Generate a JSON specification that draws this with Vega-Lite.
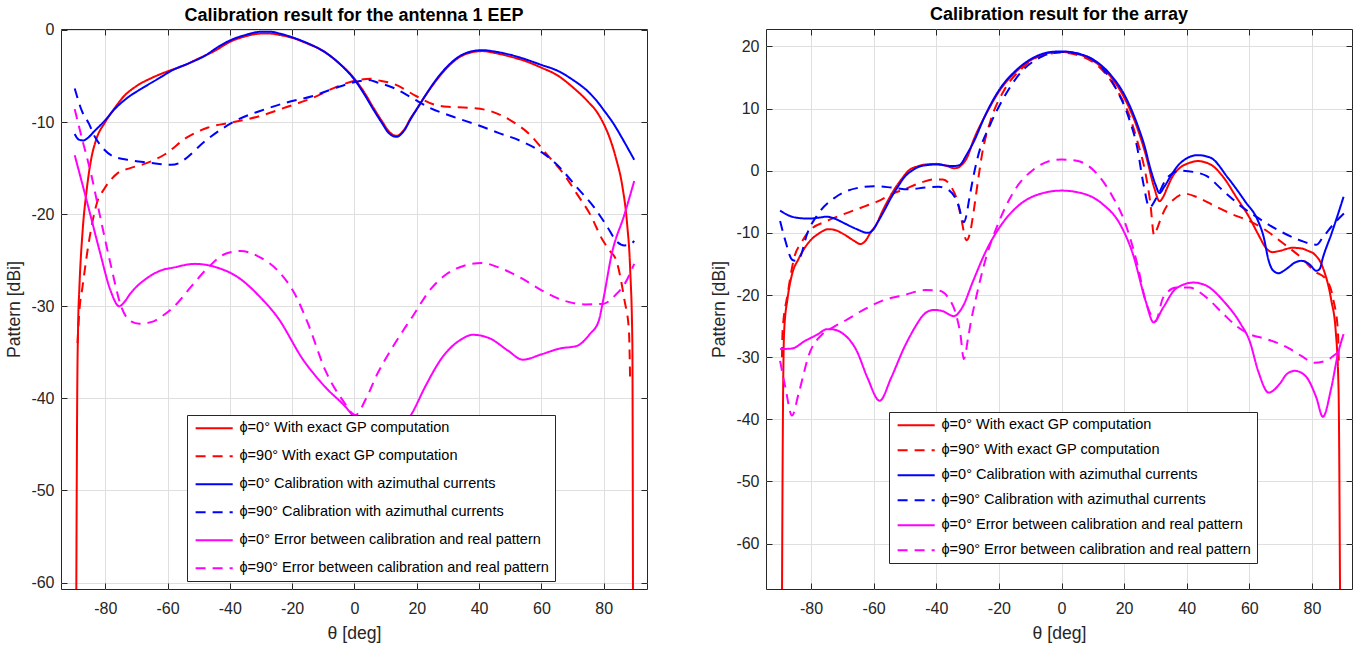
{
"$schema": "https://vega.github.io/schema/vega-lite/v6.json",
"padding": 5,
"spacing": 62,
"config": {
  "font": "Liberation Sans",
  "view": {"stroke": "#262626", "strokeWidth": 1},
  "axis": {"labelFont": "Liberation Sans", "labelFontSize": 16, "labelColor": "#262626", "titleFont": "Liberation Sans", "titleFontSize": 17.6, "titleFontWeight": "normal", "titleColor": "#262626", "gridColor": "#dfdfdf", "gridOpacity": 1, "tickColor": "#262626", "tickSize": -6, "domain": false, "labelFlush": false, "labelExpr": "'' + datum.value"},
  "legend": {"title": null, "labelFont": "Liberation Sans", "labelFontSize": 14.5, "labelColor": "#000000", "labelLimit": 500, "strokeColor": "#262626", "fillColor": "#ffffff", "padding": 6, "symbolType": "M-1,0H7", "symbolSize": 86, "symbolStrokeWidth": 2, "labelOffset": 32, "rowPadding": 13},
  "title": {"font": "Liberation Sans", "fontSize": 18, "fontWeight": "bold", "color": "#000000", "anchor": "middle"}
},
"datasets": {
"L": [
{"k":"r0","x":-89.3,"y":-62},{"k":"r0","x":-89.0,"y":-40},{"k":"r0","x":-88.7,"y":-32},{"k":"r0","x":-88.3,"y":-28},{"k":"r0","x":-87.3,"y":-22},{"k":"r0","x":-86,"y":-17.5},{"k":"r0","x":-84.5,"y":-14},{"k":"r0","x":-83,"y":-12},{"k":"r0","x":-80,"y":-10},{"k":"r0","x":-77,"y":-8.5},{"k":"r0","x":-74,"y":-7.2},{"k":"r0","x":-70,"y":-6.1},{"k":"r0","x":-65,"y":-5.2},{"k":"r0","x":-60,"y":-4.5},{"k":"r0","x":-55,"y":-3.9},{"k":"r0","x":-50,"y":-3.1},{"k":"r0","x":-45,"y":-2.3},{"k":"r0","x":-40,"y":-1.3},{"k":"r0","x":-35,"y":-0.7},{"k":"r0","x":-30,"y":-0.4},{"k":"r0","x":-27,"y":-0.4},{"k":"r0","x":-24,"y":-0.55},{"k":"r0","x":-20,"y":-0.85},{"k":"r0","x":-15,"y":-1.5},{"k":"r0","x":-10,"y":-2.3},{"k":"r0","x":-5,"y":-3.6},{"k":"r0","x":0,"y":-5.3},{"k":"r0","x":3,"y":-6.7},{"k":"r0","x":6,"y":-8.4},{"k":"r0","x":9,"y":-10},{"k":"r0","x":11,"y":-11},{"k":"r0","x":13.5,"y":-11.5},{"k":"r0","x":16,"y":-10.8},{"k":"r0","x":18,"y":-9.6},{"k":"r0","x":20,"y":-8.6},{"k":"r0","x":23,"y":-7.0},{"k":"r0","x":26,"y":-5.6},{"k":"r0","x":30,"y":-4.0},{"k":"r0","x":34,"y":-2.9},{"k":"r0","x":38,"y":-2.4},{"k":"r0","x":41,"y":-2.3},{"k":"r0","x":45,"y":-2.5},{"k":"r0","x":50,"y":-2.9},{"k":"r0","x":55,"y":-3.4},{"k":"r0","x":60,"y":-4.1},{"k":"r0","x":65,"y":-4.9},{"k":"r0","x":70,"y":-6.2},{"k":"r0","x":75,"y":-7.8},{"k":"r0","x":78,"y":-9},{"k":"r0","x":80,"y":-10.2},{"k":"r0","x":82,"y":-11.8},{"k":"r0","x":84,"y":-14},{"k":"r0","x":86,"y":-17},{"k":"r0","x":87.5,"y":-21},{"k":"r0","x":88.5,"y":-26},{"k":"r0","x":89.2,"y":-34},{"k":"r0","x":89.4,"y":-62},
{"k":"r90","x":-88.9,"y":-34},{"k":"r90","x":-88.3,"y":-30.5},{"k":"r90","x":-87.3,"y":-27.9},{"k":"r90","x":-85.2,"y":-22.9},{"k":"r90","x":-82.5,"y":-18.6},{"k":"r90","x":-80.4,"y":-17.3},{"k":"r90","x":-76.2,"y":-15.6},{"k":"r90","x":-72,"y":-15},{"k":"r90","x":-67.9,"y":-14.6},{"k":"r90","x":-60.8,"y":-13.5},{"k":"r90","x":-53.9,"y":-11.7},{"k":"r90","x":-47,"y":-10.6},{"k":"r90","x":-38.7,"y":-10.0},{"k":"r90","x":-30.3,"y":-9.35},{"k":"r90","x":-22,"y":-8.4},{"k":"r90","x":-13.6,"y":-7.4},{"k":"r90","x":-5.2,"y":-6.1},{"k":"r90","x":1.8,"y":-5.4},{"k":"r90","x":5,"y":-5.3},{"k":"r90","x":7.3,"y":-5.45},{"k":"r90","x":12.9,"y":-5.9},{"k":"r90","x":19.9,"y":-7.2},{"k":"r90","x":25.5,"y":-8.1},{"k":"r90","x":30,"y":-8.35},{"k":"r90","x":36.6,"y":-8.45},{"k":"r90","x":43.5,"y":-8.8},{"k":"r90","x":50.5,"y":-9.9},{"k":"r90","x":56.1,"y":-11.3},{"k":"r90","x":61.7,"y":-13.5},{"k":"r90","x":67.3,"y":-15.7},{"k":"r90","x":71.4,"y":-17.8},{"k":"r90","x":75.6,"y":-20},{"k":"r90","x":79.8,"y":-22.9},{"k":"r90","x":82,"y":-24},{"k":"r90","x":84,"y":-25},{"k":"r90","x":86.7,"y":-29.4},{"k":"r90","x":88.1,"y":-32.6},{"k":"r90","x":88.5,"y":-38.4},
{"k":"b0","x":-89.8,"y":-11.3},{"k":"b0","x":-88.5,"y":-11.9},{"k":"b0","x":-87,"y":-12.0},{"k":"b0","x":-85.5,"y":-11.7},{"k":"b0","x":-83.5,"y":-11},{"k":"b0","x":-80,"y":-9.8},{"k":"b0","x":-77,"y":-8.6},{"k":"b0","x":-73,"y":-7.4},{"k":"b0","x":-68,"y":-6.3},{"k":"b0","x":-63,"y":-5.3},{"k":"b0","x":-58,"y":-4.3},{"k":"b0","x":-53,"y":-3.6},{"k":"b0","x":-48,"y":-2.8},{"k":"b0","x":-44,"y":-1.9},{"k":"b0","x":-40,"y":-1.15},{"k":"b0","x":-35,"y":-0.55},{"k":"b0","x":-30,"y":-0.2},{"k":"b0","x":-27,"y":-0.2},{"k":"b0","x":-24,"y":-0.4},{"k":"b0","x":-20,"y":-0.8},{"k":"b0","x":-15,"y":-1.45},{"k":"b0","x":-10,"y":-2.3},{"k":"b0","x":-5,"y":-3.6},{"k":"b0","x":0,"y":-5.4},{"k":"b0","x":3,"y":-6.9},{"k":"b0","x":6,"y":-8.6},{"k":"b0","x":9,"y":-10.2},{"k":"b0","x":11,"y":-11.2},{"k":"b0","x":13.5,"y":-11.6},{"k":"b0","x":16,"y":-10.9},{"k":"b0","x":18,"y":-9.7},{"k":"b0","x":20,"y":-8.6},{"k":"b0","x":23,"y":-7.0},{"k":"b0","x":26,"y":-5.5},{"k":"b0","x":30,"y":-3.9},{"k":"b0","x":34,"y":-2.8},{"k":"b0","x":38,"y":-2.3},{"k":"b0","x":41,"y":-2.2},{"k":"b0","x":45,"y":-2.35},{"k":"b0","x":50,"y":-2.7},{"k":"b0","x":55,"y":-3.2},{"k":"b0","x":60,"y":-3.8},{"k":"b0","x":65,"y":-4.4},{"k":"b0","x":70,"y":-5.4},{"k":"b0","x":75,"y":-6.7},{"k":"b0","x":78,"y":-7.8},{"k":"b0","x":80,"y":-8.7},{"k":"b0","x":83,"y":-10.1},{"k":"b0","x":86,"y":-11.8},{"k":"b0","x":88,"y":-13},{"k":"b0","x":89.8,"y":-14.1},
{"k":"b90","x":-89.8,"y":-6.35},{"k":"b90","x":-87.5,"y":-8.8},{"k":"b90","x":-85.2,"y":-10.2},{"k":"b90","x":-83.5,"y":-11.5},{"k":"b90","x":-81.8,"y":-12.4},{"k":"b90","x":-77.6,"y":-13.7},{"k":"b90","x":-72,"y":-14.15},{"k":"b90","x":-66.4,"y":-14.4},{"k":"b90","x":-61,"y":-14.6},{"k":"b90","x":-58.8,"y":-14.65},{"k":"b90","x":-56,"y":-14.4},{"k":"b90","x":-53.9,"y":-13.9},{"k":"b90","x":-48.4,"y":-12.2},{"k":"b90","x":-42.8,"y":-10.8},{"k":"b90","x":-37.2,"y":-9.7},{"k":"b90","x":-30.3,"y":-8.8},{"k":"b90","x":-22,"y":-7.9},{"k":"b90","x":-13.6,"y":-7.2},{"k":"b90","x":-5.2,"y":-6.2},{"k":"b90","x":1.8,"y":-5.55},{"k":"b90","x":4.5,"y":-5.45},{"k":"b90","x":7.3,"y":-5.7},{"k":"b90","x":12.9,"y":-6.35},{"k":"b90","x":18.5,"y":-7.4},{"k":"b90","x":24.1,"y":-8.45},{"k":"b90","x":31,"y":-9.35},{"k":"b90","x":39.3,"y":-10.3},{"k":"b90","x":46.4,"y":-11.2},{"k":"b90","x":53.3,"y":-12.05},{"k":"b90","x":60.2,"y":-13.3},{"k":"b90","x":65.8,"y":-14.9},{"k":"b90","x":71.4,"y":-17.1},{"k":"b90","x":77,"y":-19.3},{"k":"b90","x":81.2,"y":-21.4},{"k":"b90","x":84,"y":-22.9},{"k":"b90","x":86.7,"y":-23.4},{"k":"b90","x":88.5,"y":-23.3},{"k":"b90","x":89.8,"y":-22.9},
{"k":"m0","x":-89.8,"y":-13.6},{"k":"m0","x":-85.9,"y":-18.6},{"k":"m0","x":-81.8,"y":-24},{"k":"m0","x":-78.3,"y":-28.3},{"k":"m0","x":-75.5,"y":-30.0},{"k":"m0","x":-74,"y":-29.6},{"k":"m0","x":-72,"y":-28.65},{"k":"m0","x":-66.4,"y":-26.9},{"k":"m0","x":-62,"y":-26.1},{"k":"m0","x":-58.1,"y":-25.8},{"k":"m0","x":-51.2,"y":-25.4},{"k":"m0","x":-44.1,"y":-25.8},{"k":"m0","x":-37.2,"y":-26.9},{"k":"m0","x":-30.3,"y":-29},{"k":"m0","x":-24.7,"y":-31.2},{"k":"m0","x":-16.3,"y":-35.9},{"k":"m0","x":-9.3,"y":-38.8},{"k":"m0","x":-2.4,"y":-41.1},{"k":"m0","x":2,"y":-43},{"k":"m0","x":8,"y":-45},{"k":"m0","x":13,"y":-44},{"k":"m0","x":18.5,"y":-41.6},{"k":"m0","x":22.6,"y":-38.8},{"k":"m0","x":28.3,"y":-35.5},{"k":"m0","x":33.8,"y":-33.7},{"k":"m0","x":38,"y":-33.1},{"k":"m0","x":43.5,"y":-33.5},{"k":"m0","x":49.2,"y":-34.8},{"k":"m0","x":54,"y":-35.8},{"k":"m0","x":60.2,"y":-35.2},{"k":"m0","x":65.8,"y":-34.6},{"k":"m0","x":71.4,"y":-34.3},{"k":"m0","x":75.6,"y":-33},{"k":"m0","x":78.4,"y":-31.6},{"k":"m0","x":79.8,"y":-29.4},{"k":"m0","x":82.6,"y":-24.3},{"k":"m0","x":86.7,"y":-20},{"k":"m0","x":89.8,"y":-16.4},
{"k":"m90","x":-89.8,"y":-8.6},{"k":"m90","x":-87.3,"y":-12},{"k":"m90","x":-84.5,"y":-15.7},{"k":"m90","x":-81.8,"y":-20},{"k":"m90","x":-78.3,"y":-25.4},{"k":"m90","x":-74.8,"y":-30.1},{"k":"m90","x":-72,"y":-31.6},{"k":"m90","x":-69,"y":-31.9},{"k":"m90","x":-65,"y":-31.7},{"k":"m90","x":-62.3,"y":-31.2},{"k":"m90","x":-58.1,"y":-30.1},{"k":"m90","x":-52.5,"y":-27.9},{"k":"m90","x":-47,"y":-25.8},{"k":"m90","x":-41.4,"y":-24.3},{"k":"m90","x":-36.5,"y":-24.0},{"k":"m90","x":-30.3,"y":-24.7},{"k":"m90","x":-24.7,"y":-26.1},{"k":"m90","x":-19.1,"y":-28.7},{"k":"m90","x":-14.9,"y":-31.9},{"k":"m90","x":-9.3,"y":-37},{"k":"m90","x":-3.8,"y":-40.2},{"k":"m90","x":0.3,"y":-41.8},{"k":"m90","x":3.9,"y":-39.9},{"k":"m90","x":7.4,"y":-37.3},{"k":"m90","x":11.6,"y":-34.8},{"k":"m90","x":15.7,"y":-32.6},{"k":"m90","x":18.5,"y":-31.2},{"k":"m90","x":24.1,"y":-28.3},{"k":"m90","x":29.6,"y":-26.5},{"k":"m90","x":35.2,"y":-25.6},{"k":"m90","x":40.8,"y":-25.3},{"k":"m90","x":46.4,"y":-25.8},{"k":"m90","x":53.3,"y":-26.9},{"k":"m90","x":60.2,"y":-28.3},{"k":"m90","x":67.3,"y":-29.4},{"k":"m90","x":74.2,"y":-29.8},{"k":"m90","x":79.8,"y":-29.75},{"k":"m90","x":84,"y":-28.7},{"k":"m90","x":86.7,"y":-27.6},{"k":"m90","x":89.8,"y":-25.4}
],
"R": [
{"k":"r0","x":-89.3,"y":-70},{"k":"r0","x":-89.0,"y":-40},{"k":"r0","x":-88.6,"y":-25.8},{"k":"r0","x":-87.5,"y":-20.5},{"k":"r0","x":-86.1,"y":-16.7},{"k":"r0","x":-84,"y":-14.2},{"k":"r0","x":-82,"y":-12.4},{"k":"r0","x":-80,"y":-11.1},{"k":"r0","x":-77.8,"y":-10.2},{"k":"r0","x":-74.4,"y":-9.4},{"k":"r0","x":-72,"y":-9.6},{"k":"r0","x":-69.6,"y":-10.2},{"k":"r0","x":-66.2,"y":-11.3},{"k":"r0","x":-64.3,"y":-11.8},{"k":"r0","x":-62.5,"y":-11.2},{"k":"r0","x":-61.3,"y":-10.2},{"k":"r0","x":-59,"y":-8.5},{"k":"r0","x":-57.2,"y":-6.5},{"k":"r0","x":-55,"y":-4.4},{"k":"r0","x":-53,"y":-2.7},{"k":"r0","x":-51,"y":-1.3},{"k":"r0","x":-48.9,"y":0},{"k":"r0","x":-46,"y":0.7},{"k":"r0","x":-43.4,"y":1.0},{"k":"r0","x":-39.9,"y":1.1},{"k":"r0","x":-36.5,"y":0.75},{"k":"r0","x":-34.4,"y":0.4},{"k":"r0","x":-33,"y":0.5},{"k":"r0","x":-32.3,"y":0.75},{"k":"r0","x":-30,"y":2.3},{"k":"r0","x":-28.2,"y":4.8},{"k":"r0","x":-24.1,"y":9.1},{"k":"r0","x":-19.9,"y":12.8},{"k":"r0","x":-14.4,"y":16},{"k":"r0","x":-8.9,"y":18.05},{"k":"r0","x":-3.4,"y":19.0},{"k":"r0","x":0,"y":19.1},{"k":"r0","x":4.9,"y":18.8},{"k":"r0","x":10.4,"y":17.6},{"k":"r0","x":15.9,"y":15},{"k":"r0","x":20.1,"y":11.7},{"k":"r0","x":24.2,"y":6.9},{"k":"r0","x":26.9,"y":2.6},{"k":"r0","x":29.6,"y":-2.7},{"k":"r0","x":31.3,"y":-4.9},{"k":"r0","x":32.5,"y":-4.2},{"k":"r0","x":33.8,"y":-2.7},{"k":"r0","x":35.5,"y":-0.9},{"k":"r0","x":37.9,"y":0.5},{"k":"r0","x":40.5,"y":1.2},{"k":"r0","x":43.5,"y":1.55},{"k":"r0","x":47.6,"y":1.0},{"k":"r0","x":51.8,"y":-1.1},{"k":"r0","x":55.9,"y":-4.3},{"k":"r0","x":60.1,"y":-7.6},{"k":"r0","x":62.8,"y":-10.2},{"k":"r0","x":65.6,"y":-12.6},{"k":"r0","x":67.5,"y":-13.1},{"k":"r0","x":69.7,"y":-12.9},{"k":"r0","x":73.8,"y":-12.4},{"k":"r0","x":76.6,"y":-12.5},{"k":"r0","x":78.8,"y":-12.9},{"k":"r0","x":80.7,"y":-13.4},{"k":"r0","x":83.5,"y":-15.6},{"k":"r0","x":86.2,"y":-20.9},{"k":"r0","x":87.6,"y":-25.8},{"k":"r0","x":88.5,"y":-35},{"k":"r0","x":89.0,"y":-70},
{"k":"r90","x":-89.3,"y":-30},{"k":"r90","x":-89.1,"y":-25.8},{"k":"r90","x":-87.5,"y":-19.9},{"k":"r90","x":-85.4,"y":-14},{"k":"r90","x":-83,"y":-11.5},{"k":"r90","x":-80.6,"y":-9.7},{"k":"r90","x":-75,"y":-8.1},{"k":"r90","x":-69.6,"y":-7.0},{"k":"r90","x":-62.7,"y":-5.7},{"k":"r90","x":-58.5,"y":-4.9},{"k":"r90","x":-54.4,"y":-3.8},{"k":"r90","x":-50.3,"y":-3.0},{"k":"r90","x":-44.8,"y":-1.9},{"k":"r90","x":-40.7,"y":-1.4},{"k":"r90","x":-37.9,"y":-1.4},{"k":"r90","x":-35.1,"y":-2.7},{"k":"r90","x":-33.5,"y":-4.5},{"k":"r90","x":-32.3,"y":-7.0},{"k":"r90","x":-30.3,"y":-11.2},{"k":"r90","x":-29,"y":-9.5},{"k":"r90","x":-28.2,"y":-7.0},{"k":"r90","x":-26.5,"y":-1},{"k":"r90","x":-25.4,"y":2.6},{"k":"r90","x":-22.7,"y":8.0},{"k":"r90","x":-18.5,"y":12.8},{"k":"r90","x":-13,"y":16.3},{"k":"r90","x":-6.1,"y":18.6},{"k":"r90","x":0,"y":19.0},{"k":"r90","x":6.3,"y":18.4},{"k":"r90","x":11.8,"y":16.8},{"k":"r90","x":17.3,"y":13.3},{"k":"r90","x":21.5,"y":9.1},{"k":"r90","x":24.2,"y":4.8},{"k":"r90","x":26.9,"y":-0.6},{"k":"r90","x":28.3,"y":-4.9},{"k":"r90","x":29.6,"y":-10.4},{"k":"r90","x":30.5,"y":-9.4},{"k":"r90","x":31.8,"y":-7.6},{"k":"r90","x":33.5,"y":-5.8},{"k":"r90","x":35.2,"y":-4.9},{"k":"r90","x":39.4,"y":-3.7},{"k":"r90","x":43.5,"y":-4.3},{"k":"r90","x":49,"y":-5.7},{"k":"r90","x":54.5,"y":-7.0},{"k":"r90","x":60.1,"y":-8.1},{"k":"r90","x":65.6,"y":-9.7},{"k":"r90","x":71.1,"y":-11.8},{"k":"r90","x":76.6,"y":-14},{"k":"r90","x":80.7,"y":-16.1},{"k":"r90","x":84.9,"y":-17.7},{"k":"r90","x":86.9,"y":-20.9},{"k":"r90","x":88.3,"y":-25.8},{"k":"r90","x":88.6,"y":-31},
{"k":"b0","x":-89.9,"y":-6.4},{"k":"b0","x":-88,"y":-7.0},{"k":"b0","x":-86.1,"y":-7.4},{"k":"b0","x":-83,"y":-7.65},{"k":"b0","x":-80.6,"y":-7.7},{"k":"b0","x":-77.5,"y":-7.55},{"k":"b0","x":-75,"y":-7.4},{"k":"b0","x":-72,"y":-7.8},{"k":"b0","x":-69.6,"y":-8.4},{"k":"b0","x":-65.4,"y":-9.4},{"k":"b0","x":-62,"y":-10.0},{"k":"b0","x":-60.2,"y":-9.5},{"k":"b0","x":-58.5,"y":-8.1},{"k":"b0","x":-56.5,"y":-6.3},{"k":"b0","x":-54.4,"y":-4.3},{"k":"b0","x":-52.3,"y":-2.6},{"k":"b0","x":-50.3,"y":-1.1},{"k":"b0","x":-47.5,"y":0.1},{"k":"b0","x":-44.8,"y":0.75},{"k":"b0","x":-39.9,"y":1.0},{"k":"b0","x":-35.1,"y":0.75},{"k":"b0","x":-33.3,"y":0.8},{"k":"b0","x":-32.3,"y":1.0},{"k":"b0","x":-30.5,"y":2.4},{"k":"b0","x":-28.2,"y":4.5},{"k":"b0","x":-24.1,"y":9.2},{"k":"b0","x":-19.9,"y":13.0},{"k":"b0","x":-14.4,"y":16.2},{"k":"b0","x":-8.9,"y":18.2},{"k":"b0","x":-3.4,"y":19.1},{"k":"b0","x":0,"y":19.2},{"k":"b0","x":4.9,"y":18.9},{"k":"b0","x":10.4,"y":17.8},{"k":"b0","x":15.9,"y":15.3},{"k":"b0","x":20.1,"y":12.2},{"k":"b0","x":24.2,"y":7.45},{"k":"b0","x":26.5,"y":4},{"k":"b0","x":28.3,"y":0.5},{"k":"b0","x":30,"y":-2.2},{"k":"b0","x":31.3,"y":-3.6},{"k":"b0","x":32.8,"y":-2.6},{"k":"b0","x":35.2,"y":-0.6},{"k":"b0","x":37.5,"y":1.0},{"k":"b0","x":39.4,"y":1.8},{"k":"b0","x":43.5,"y":2.5},{"k":"b0","x":47.6,"y":2.1},{"k":"b0","x":53.1,"y":-1.1},{"k":"b0","x":58.6,"y":-4.9},{"k":"b0","x":62.8,"y":-8.1},{"k":"b0","x":64.5,"y":-10.5},{"k":"b0","x":66.2,"y":-14.5},{"k":"b0","x":67.5,"y":-16.0},{"k":"b0","x":69.4,"y":-16.5},{"k":"b0","x":71,"y":-16.1},{"k":"b0","x":72.4,"y":-15.6},{"k":"b0","x":74.5,"y":-14.8},{"k":"b0","x":76.6,"y":-14.5},{"k":"b0","x":79.3,"y":-15.1},{"k":"b0","x":81.4,"y":-16.1},{"k":"b0","x":82.5,"y":-15.8},{"k":"b0","x":83.5,"y":-14},{"k":"b0","x":86.2,"y":-10.2},{"k":"b0","x":88,"y":-7.5},{"k":"b0","x":90.1,"y":-4.2},
{"k":"b90","x":-89.9,"y":-8.1},{"k":"b90","x":-88.2,"y":-11.3},{"k":"b90","x":-86.1,"y":-14.3},{"k":"b90","x":-85,"y":-14.5},{"k":"b90","x":-83.6,"y":-14},{"k":"b90","x":-81.3,"y":-10.2},{"k":"b90","x":-77.8,"y":-7.0},{"k":"b90","x":-72.3,"y":-4.3},{"k":"b90","x":-65.4,"y":-2.8},{"k":"b90","x":-59.9,"y":-2.5},{"k":"b90","x":-54.4,"y":-2.7},{"k":"b90","x":-48.9,"y":-3.0},{"k":"b90","x":-43.4,"y":-2.7},{"k":"b90","x":-39.2,"y":-2.6},{"k":"b90","x":-35.8,"y":-3.2},{"k":"b90","x":-33,"y":-5.4},{"k":"b90","x":-31.2,"y":-8.3},{"k":"b90","x":-30.3,"y":-7},{"k":"b90","x":-29.6,"y":-4.9},{"k":"b90","x":-26.8,"y":2.1},{"k":"b90","x":-22.7,"y":7.5},{"k":"b90","x":-18.5,"y":11.7},{"k":"b90","x":-13,"y":15.8},{"k":"b90","x":-6.1,"y":18.4},{"k":"b90","x":0,"y":19.1},{"k":"b90","x":6.3,"y":18.7},{"k":"b90","x":11.8,"y":17.1},{"k":"b90","x":17.3,"y":13.3},{"k":"b90","x":21.5,"y":8.5},{"k":"b90","x":24.2,"y":3.7},{"k":"b90","x":26.2,"y":-2.2},{"k":"b90","x":28.1,"y":-5.9},{"k":"b90","x":30.4,"y":-4.3},{"k":"b90","x":33.8,"y":-1.1},{"k":"b90","x":37.9,"y":0},{"k":"b90","x":42.2,"y":-0.2},{"k":"b90","x":46.3,"y":-0.85},{"k":"b90","x":51.8,"y":-3.3},{"k":"b90","x":57.3,"y":-5.7},{"k":"b90","x":62.8,"y":-7.6},{"k":"b90","x":69.7,"y":-9.7},{"k":"b90","x":75.2,"y":-11},{"k":"b90","x":80,"y":-11.8},{"k":"b90","x":81.5,"y":-11.9},{"k":"b90","x":83.5,"y":-10.7},{"k":"b90","x":86.9,"y":-8.6},{"k":"b90","x":90.4,"y":-6.8},
{"k":"m0","x":-89.9,"y":-28.7},{"k":"m0","x":-86.1,"y":-28.6},{"k":"m0","x":-82,"y":-27.4},{"k":"m0","x":-77.8,"y":-26.3},{"k":"m0","x":-75,"y":-25.5},{"k":"m0","x":-73.7,"y":-25.5},{"k":"m0","x":-69.6,"y":-26.3},{"k":"m0","x":-65.4,"y":-29},{"k":"m0","x":-62,"y":-33.3},{"k":"m0","x":-58.1,"y":-37.0},{"k":"m0","x":-54.4,"y":-33.3},{"k":"m0","x":-50.3,"y":-28.5},{"k":"m0","x":-46.1,"y":-24.6},{"k":"m0","x":-44.8,"y":-23.6},{"k":"m0","x":-42.5,"y":-22.6},{"k":"m0","x":-40.7,"y":-22.4},{"k":"m0","x":-37.9,"y":-22.6},{"k":"m0","x":-34.4,"y":-23.4},{"k":"m0","x":-31.7,"y":-22},{"k":"m0","x":-28.2,"y":-17.7},{"k":"m0","x":-24.1,"y":-12.9},{"k":"m0","x":-19.9,"y":-9.2},{"k":"m0","x":-14.4,"y":-5.9},{"k":"m0","x":-8.9,"y":-4.1},{"k":"m0","x":0,"y":-3.2},{"k":"m0","x":7.7,"y":-3.8},{"k":"m0","x":13.2,"y":-5.4},{"k":"m0","x":18.7,"y":-8.6},{"k":"m0","x":22.8,"y":-13.4},{"k":"m0","x":26.9,"y":-21},{"k":"m0","x":29.4,"y":-24.4},{"k":"m0","x":32.5,"y":-22},{"k":"m0","x":36.7,"y":-18.9},{"k":"m0","x":42.2,"y":-18},{"k":"m0","x":46.3,"y":-18.5},{"k":"m0","x":51.8,"y":-21},{"k":"m0","x":57.3,"y":-24.7},{"k":"m0","x":60.1,"y":-27.4},{"k":"m0","x":62.8,"y":-32.2},{"k":"m0","x":66.2,"y":-35.7},{"k":"m0","x":69.7,"y":-34.3},{"k":"m0","x":72,"y":-32.7},{"k":"m0","x":74.5,"y":-32.2},{"k":"m0","x":77.9,"y":-33},{"k":"m0","x":81.4,"y":-36.5},{"k":"m0","x":83.5,"y":-39.6},{"k":"m0","x":86.2,"y":-34.9},{"k":"m0","x":88.3,"y":-29.5},{"k":"m0","x":90.1,"y":-26.3},
{"k":"m90","x":-89.9,"y":-30.6},{"k":"m90","x":-88.2,"y":-34.9},{"k":"m90","x":-86.1,"y":-39.4},{"k":"m90","x":-84,"y":-35.9},{"k":"m90","x":-80.6,"y":-29.5},{"k":"m90","x":-76.4,"y":-26.3},{"k":"m90","x":-73,"y":-25.2},{"k":"m90","x":-69,"y":-24.1},{"k":"m90","x":-64,"y":-22.6},{"k":"m90","x":-57.2,"y":-20.9},{"k":"m90","x":-50.3,"y":-20},{"k":"m90","x":-43.4,"y":-19.2},{"k":"m90","x":-39.2,"y":-19.3},{"k":"m90","x":-35.8,"y":-20.7},{"k":"m90","x":-33.7,"y":-23.1},{"k":"m90","x":-32.3,"y":-26.3},{"k":"m90","x":-31.2,"y":-30.3},{"k":"m90","x":-29.8,"y":-26.8},{"k":"m90","x":-28.9,"y":-24.2},{"k":"m90","x":-27.5,"y":-20.9},{"k":"m90","x":-24.1,"y":-14},{"k":"m90","x":-19.9,"y":-8.1},{"k":"m90","x":-14.4,"y":-2.7},{"k":"m90","x":-8.9,"y":0.2},{"k":"m90","x":-3.4,"y":1.6},{"k":"m90","x":0,"y":1.8},{"k":"m90","x":4.9,"y":1.6},{"k":"m90","x":10.4,"y":0},{"k":"m90","x":15.9,"y":-3.8},{"k":"m90","x":20.1,"y":-8.1},{"k":"m90","x":24.2,"y":-15},{"k":"m90","x":26.9,"y":-21},{"k":"m90","x":29,"y":-23.6},{"k":"m90","x":30,"y":-24.2},{"k":"m90","x":32.5,"y":-20.4},{"k":"m90","x":36.7,"y":-18.8},{"k":"m90","x":40.8,"y":-18.8},{"k":"m90","x":46.3,"y":-20.4},{"k":"m90","x":51.8,"y":-23.1},{"k":"m90","x":55.9,"y":-25},{"k":"m90","x":60.1,"y":-26.3},{"k":"m90","x":65.6,"y":-27.1},{"k":"m90","x":72.4,"y":-28.5},{"k":"m90","x":76.6,"y":-29.8},{"k":"m90","x":80.7,"y":-30.9},{"k":"m90","x":84.9,"y":-30.5},{"k":"m90","x":87.6,"y":-29.5},{"k":"m90","x":90.1,"y":-29}
]
},
"hconcat": [
{
  "width": 586, "height": 560,
  "title": {"text": "Calibration result for the antenna 1 EEP", "offset": -3.5},
  "data": {"name": "L"},
  "layer": [
    {"mark": {"type": "line", "strokeWidth": 2, "clip": true, "interpolate": "monotone"},
     "encoding": {
       "x": {"field": "x", "type": "quantitative", "scale": {"domain": [-94.2, 93.9], "nice": false, "zero": false}, "axis": {"values": [-80,-60,-40,-20,0,20,40,60,80], "title": "θ [deg]", "labelPadding": 17, "titlePadding": 8}},
       "y": {"field": "y", "type": "quantitative", "scale": {"domain": [-60.7, 0.1], "nice": false, "zero": false}, "axis": {"values": [-60,-50,-40,-30,-20,-10,0], "title": "Pattern [dBi]", "labelPadding": 13, "titlePadding": 7}},
       "color": {"field": "k", "type": "nominal", "scale": {"domain": ["r0","r90","b0","b90","m0","m90"], "range": ["#ff0000","#ff0000","#0000ff","#0000ff","#ff00ff","#ff00ff"]}, "legend": {"orient": "none", "legendX": 126, "legendY": 386, "labelExpr": "datum.label == 'r0' ? 'ϕ=0° With exact GP computation' : datum.label == 'r90' ? 'ϕ=90° With exact GP computation' : datum.label == 'b0' ? 'ϕ=0° Calibration with azimuthal currents' : datum.label == 'b90' ? 'ϕ=90° Calibration with azimuthal currents' : datum.label == 'm0' ? 'ϕ=0° Error between calibration and real pattern' : 'ϕ=90° Error between calibration and real pattern'"}},
       "strokeDash": {"field": "k", "type": "nominal", "scale": {"domain": ["r0","r90","b0","b90","m0","m90"], "range": [[1,0],[10,7],[1,0],[10,7],[1,0],[10,7]]}, "legend": {"orient": "none", "legendX": 126, "legendY": 386, "labelExpr": "datum.label == 'r0' ? 'ϕ=0° With exact GP computation' : datum.label == 'r90' ? 'ϕ=90° With exact GP computation' : datum.label == 'b0' ? 'ϕ=0° Calibration with azimuthal currents' : datum.label == 'b90' ? 'ϕ=90° Calibration with azimuthal currents' : datum.label == 'm0' ? 'ϕ=0° Error between calibration and real pattern' : 'ϕ=90° Error between calibration and real pattern'"}}
     }},
    {"mark": {"type": "line", "opacity": 0},
     "encoding": {
       "x": {"field": "x", "type": "quantitative", "axis": {"orient": "top", "values": [-80,-60,-40,-20,0,20,40,60,80], "labels": false, "title": null, "grid": false}},
       "y": {"field": "y", "type": "quantitative", "axis": {"orient": "right", "values": [-60,-50,-40,-30,-20,-10,0], "labels": false, "title": null, "grid": false}}
     }}
  ],
  "resolve": {"axis": {"x": "independent", "y": "independent"}}
},
{
  "width": 586, "height": 560,
  "title": {"text": "Calibration result for the array", "offset": 4.5},
  "data": {"name": "R"},
  "layer": [
    {"mark": {"type": "line", "strokeWidth": 2, "clip": true, "interpolate": "monotone"},
     "encoding": {
       "x": {"field": "x", "type": "quantitative", "scale": {"domain": [-94.4, 92.8], "nice": false, "zero": false}, "axis": {"values": [-80,-60,-40,-20,0,20,40,60,80], "title": "θ [deg]", "labelPadding": 17, "titlePadding": 8}},
       "y": {"field": "y", "type": "quantitative", "scale": {"domain": [-67.3, 22.8], "nice": false, "zero": false}, "axis": {"values": [-60,-50,-40,-30,-20,-10,0,10,20], "title": "Pattern [dBi]", "labelPadding": 13, "titlePadding": 7}},
       "color": {"field": "k", "type": "nominal", "scale": {"domain": ["r0","r90","b0","b90","m0","m90"], "range": ["#ff0000","#ff0000","#0000ff","#0000ff","#ff00ff","#ff00ff"]}, "legend": {"orient": "none", "legendX": 123, "legendY": 383, "rowPadding": 10, "labelExpr": "datum.label == 'r0' ? 'ϕ=0° With exact GP computation' : datum.label == 'r90' ? 'ϕ=90° With exact GP computation' : datum.label == 'b0' ? 'ϕ=0° Calibration with azimuthal currents' : datum.label == 'b90' ? 'ϕ=90° Calibration with azimuthal currents' : datum.label == 'm0' ? 'ϕ=0° Error between calibration and real pattern' : 'ϕ=90° Error between calibration and real pattern'"}},
       "strokeDash": {"field": "k", "type": "nominal", "scale": {"domain": ["r0","r90","b0","b90","m0","m90"], "range": [[1,0],[10,7],[1,0],[10,7],[1,0],[10,7]]}, "legend": {"orient": "none", "legendX": 123, "legendY": 383, "rowPadding": 10, "labelExpr": "datum.label == 'r0' ? 'ϕ=0° With exact GP computation' : datum.label == 'r90' ? 'ϕ=90° With exact GP computation' : datum.label == 'b0' ? 'ϕ=0° Calibration with azimuthal currents' : datum.label == 'b90' ? 'ϕ=90° Calibration with azimuthal currents' : datum.label == 'm0' ? 'ϕ=0° Error between calibration and real pattern' : 'ϕ=90° Error between calibration and real pattern'"}}
     }},
    {"mark": {"type": "line", "opacity": 0},
     "encoding": {
       "x": {"field": "x", "type": "quantitative", "axis": {"orient": "top", "values": [-80,-60,-40,-20,0,20,40,60,80], "labels": false, "title": null, "grid": false}},
       "y": {"field": "y", "type": "quantitative", "axis": {"orient": "right", "values": [-60,-50,-40,-30,-20,-10,0,10,20], "labels": false, "title": null, "grid": false}}
     }}
  ],
  "resolve": {"axis": {"x": "independent", "y": "independent"}}
}
],
"resolve": {"scale": {"color": "independent", "strokeDash": "independent"}, "legend": {"color": "independent", "strokeDash": "independent"}}
}
